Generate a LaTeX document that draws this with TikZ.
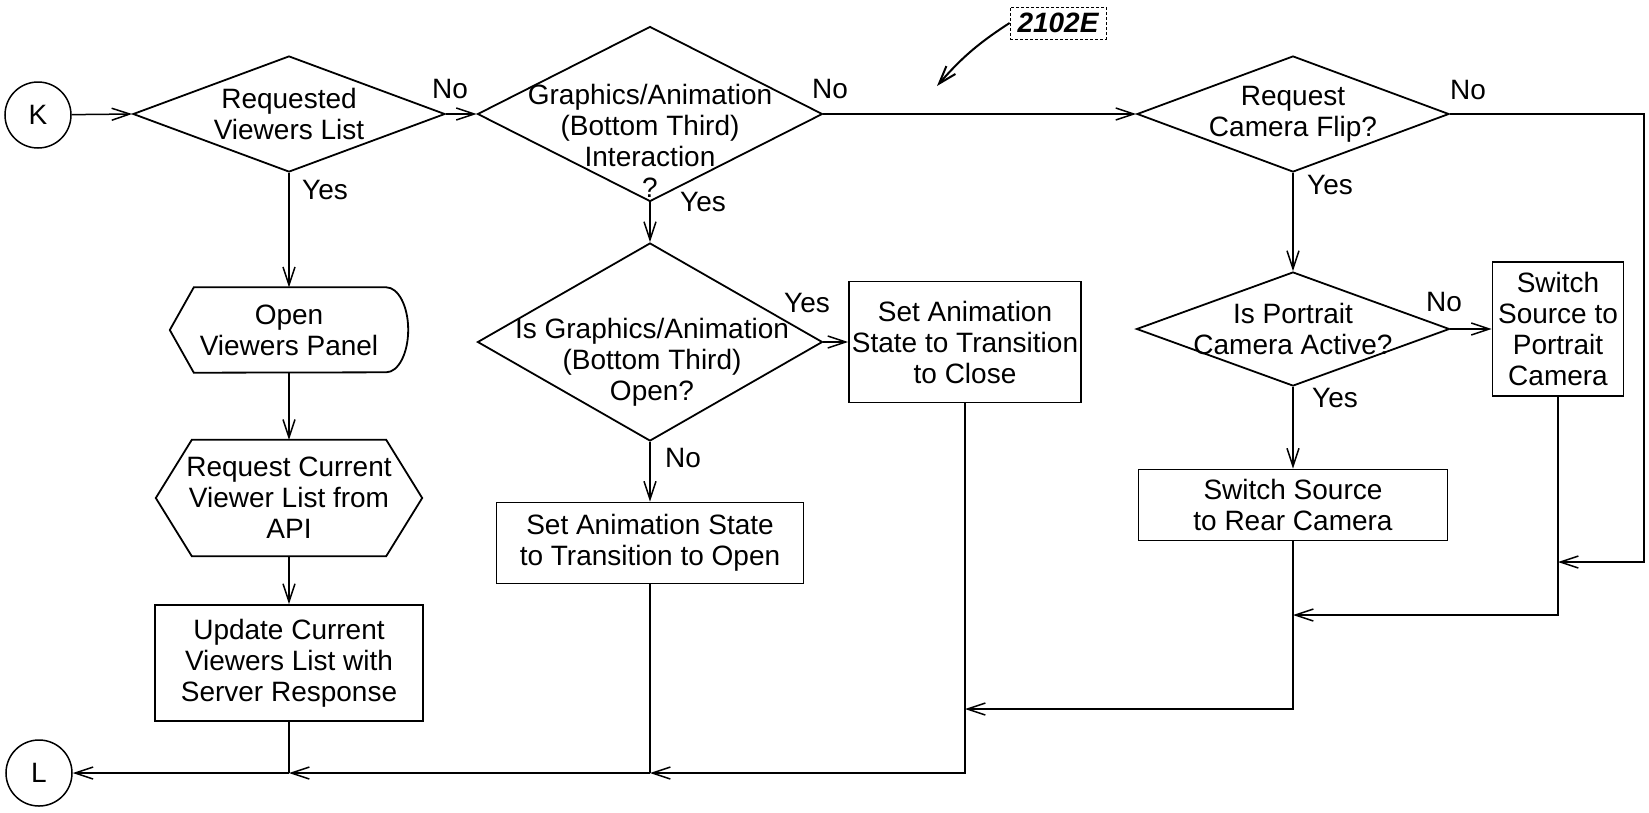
\documentclass[tikz,border=0pt]{standalone}
\usepackage{fontspec}
\setmainfont{Liberation Sans}
\usetikzlibrary{arrows.meta,shapes.geometric}

\begin{document}
\begin{tikzpicture}[x=1pt,y=-1pt,>={Straight Barb[length=18pt,width=12pt]},
  every node/.style={font=\fontsize{28}{31}\selectfont},
  dec/.style={diamond,draw,line width=1.8pt,inner sep=0pt},
  proc/.style={rectangle,draw,line width=1.8pt,align=center,inner sep=2pt},
  txt/.style={align=center,inner sep=0pt},
  lbl/.style={inner sep=0pt},
  conn/.style={line width=1.5pt},
  term/.style={circle,draw,line width=1.5pt,minimum size=66pt,inner sep=0pt}]

  \useasboundingbox (0,0) rectangle (1649,812);

  % off-page connectors
  \node[term] (K) at (38,115) {K};
  \node[term] (L) at (39,773) {L};

  % reference numeral
  \node[draw,densely dashed,line width=0.8pt,inner sep=0pt,minimum width=96pt,minimum height=32pt,
    font=\fontsize{28}{30}\selectfont\bfseries\itshape] (fig) at (1058,23) {2102E};
  \coordinate (figtip) at (937,86);
  \draw[->,line width=2pt] (fig.west) to[bend right=8] (figtip);

  % viewers list branch
  \node[dec,minimum width=312pt,minimum height=116pt] (viewq) at (289,114) {};
  \node[txt] (viewqt) at (viewq) {Requested\\Viewers List};
  \node[txt,minimum width=238pt,minimum height=85pt] (panel) at (289,330) {Open\\Viewers Panel};
  \draw[line width=1.8pt] (panel.west) -- ([xshift=24pt]panel.north west) -- ([xshift=-22pt]panel.north east)
    arc[start angle=90,end angle=-90,x radius=22pt,y radius=42.5pt] -- ([xshift=24pt]panel.south west) -- cycle;
  \node[txt,minimum width=266pt,minimum height=116pt] (fetch) at (289,498) {Request Current\\Viewer List from\\API};
  \draw[line width=1.8pt] (fetch.west) -- ([xshift=36pt]fetch.north west) -- ([xshift=-36pt]fetch.north east)
    -- (fetch.east) -- ([xshift=-36pt]fetch.south east) -- ([xshift=36pt]fetch.south west) -- cycle;
  \node[proc,minimum width=268pt,minimum height=116pt] (update) at (289,663) {Update Current\\Viewers List with\\Server Response};

  % graphics / animation branch
  \node[dec,minimum width=345pt,minimum height=175pt] (gfxq) at (650,114) {};
  \node[txt] (gfxqt) at (650,141) {Graphics/Animation\\(Bottom Third)\\Interaction\\?};
  \node[dec,minimum width=345pt,minimum height=198pt] (openq) at (650,342) {};
  \node[txt] (openqt) at (652,362) {Is Graphics/Animation\\(Bottom Third)\\Open?};
  \node[proc,minimum width=307pt,minimum height=81pt] (animopen) at (650,543) {Set Animation State\\to Transition to Open};
  \node[proc,minimum width=232pt,minimum height=121pt] (animclose) at (965,342) {Set Animation\\State to Transition\\to Close};

  % camera flip branch
  \node[dec,minimum width=312pt,minimum height=116pt] (flipq) at (1293,114) {};
  \node[txt] (flipqt) at (flipq) {Request\\Camera Flip?};
  \node[dec,minimum width=313pt,minimum height=114pt] (portq) at (1293,329) {};
  \node[txt] (portqt) at (portq) {Is Portrait\\Camera Active?};
  \node[proc,minimum width=309pt,minimum height=71pt] (rearcam) at (1293,505) {Switch Source\\to Rear Camera};
  \node[proc,minimum width=131pt,minimum height=134pt] (portcam) at (1558,329) {Switch\\Source to\\Portrait\\Camera};

  % branch labels
  \node[lbl] (no1) at (450,89) {No};
  \node[lbl] (yes1) at (325,190) {Yes};
  \node[lbl] (no2) at (830,89) {No};
  \node[lbl] (yes2) at (703,202) {Yes};
  \node[lbl] (yes3) at (807,303) {Yes};
  \node[lbl] (no3) at (683,458) {No};
  \node[lbl] (no4) at (1468,90) {No};
  \node[lbl] (yes4) at (1330,185) {Yes};
  \node[lbl] (no5) at (1444,302) {No};
  \node[lbl] (yes5) at (1335,398) {Yes};

  % junctions
  \coordinate (rb) at (1644,562);
  \coordinate (jr1) at (1558,562);
  \coordinate (jr3) at (1293,615);
  \coordinate (jm) at (965,709);
  \coordinate (j2) at (650,773);
  \coordinate (j1) at (289,773);

  % flow
  \draw[conn,->] (K) -- (viewq.west);
  \draw[conn,->] (viewq.east) -- (gfxq.west);
  \draw[conn,->] (gfxq.east) -- (flipq.west);
  \draw[conn,->] (viewq.south) -- (panel.north);
  \draw[conn,->] (panel.south) -- (fetch.north);
  \draw[conn,->] (fetch.south) -- (update.north);
  \draw[conn,->] (gfxq.south) -- (openq.north);
  \draw[conn,->] (openq.east) -- (animclose.west);
  \draw[conn,->] (openq.south) -- (animopen.north);
  \draw[conn,->] (flipq.south) -- (portq.north);
  \draw[conn,->] (portq.east) -- (portcam.west);
  \draw[conn,->] (portq.south) -- (rearcam.north);

  % merging back to L
  \draw[conn,->] (flipq.east) -| (rb) -- (jr1);
  \draw[conn] (portcam.south) -- (jr1);
  \draw[conn,->] (jr1) |- (jr3);
  \draw[conn] (rearcam.south) -- (jr3);
  \draw[conn,->] (jr3) |- (jm);
  \draw[conn] (animclose.south) -- (jm);
  \draw[conn,->] (jm) |- (j2);
  \draw[conn] (animopen.south) -- (j2);
  \draw[conn,->] (j2) -- (j1);
  \draw[conn] (update.south) -- (j1);
  \draw[conn,->] (j1) -- (L.east);
\end{tikzpicture}
\end{document}
